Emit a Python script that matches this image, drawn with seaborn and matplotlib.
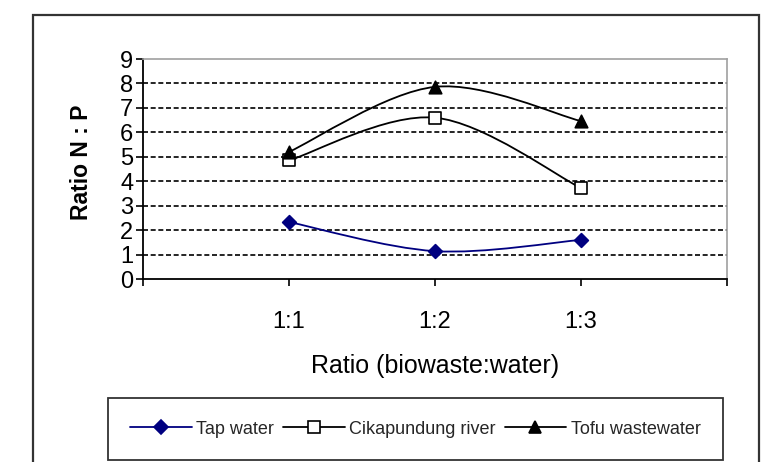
import numpy as np
import pandas as pd
import seaborn as sns
import matplotlib
matplotlib.use("Agg")
import matplotlib.pyplot as plt
from matplotlib.path import Path
from matplotlib.patches import PathPatch, Rectangle
from matplotlib.lines import Line2D

# ---- data ----
categories = ["1:1", "1:2", "1:3"]
tap_water = [2.33, 1.14, 1.60]
cikapundung = [4.85, 6.60, 3.72]
tofu = [5.20, 7.86, 6.46]
series_names = ["Tap water", "Cikapundung river", "Tofu wastewater"]
y_ticks = [0, 1, 2, 3, 4, 5, 6, 7, 8, 9]

sns.set_theme(style="white")
plt.rcParams["font.family"] = ["Liberation Sans", "DejaVu Sans"]

W, H = 768, 462
fig = plt.figure(figsize=(W / 100, H / 100), dpi=100)
fig.patch.set_facecolor("white")

ax = fig.add_axes([143 / W, 1 - 279 / H, (727 - 143) / W, (279 - 59) / H])
ax.set_facecolor("white")

xpos = np.arange(1, len(categories) + 1)
df = pd.DataFrame({
    "x": np.tile(xpos, 3),
    "y": tap_water + cikapundung + tofu,
    "series": np.repeat(series_names, len(categories)),
})

styles = {
    "Tap water": dict(color="#000080", marker="D", mfc="#000080", mec="#000080", ms=7),
    "Cikapundung river": dict(color="black", marker="s", mfc="white", mec="black", ms=8),
    "Tofu wastewater": dict(color="black", marker="^", mfc="black", mec="black", ms=9),
}


def smooth_path(xs, ys):
    # Excel-style smoothed line: cubic Bezier segments with Catmull-Rom control points
    pts = np.column_stack([xs, ys]).astype(float)
    ext = np.vstack([pts[0], pts, pts[-1]])
    verts = [tuple(pts[0])]
    codes = [Path.MOVETO]
    for i in range(1, len(ext) - 2):
        p0, p1, p2, p3 = ext[i - 1], ext[i], ext[i + 1], ext[i + 2]
        c1 = p1 + (p2 - p0) / 6.0
        c2 = p2 - (p3 - p1) / 6.0
        verts += [tuple(c1), tuple(c2), tuple(p2)]
        codes += [Path.CURVE4] * 3
    return Path(verts, codes)


for name in series_names:
    sub = df[df["series"] == name]
    st = styles[name]
    ax.add_patch(PathPatch(smooth_path(sub["x"].values, sub["y"].values),
                           facecolor="none", edgecolor=st["color"], lw=1.3, zorder=3))
    sns.scatterplot(data=sub, x="x", y="y", ax=ax, marker=st["marker"],
                    s=st["ms"] ** 2, color=st["mfc"], edgecolor=st["mec"],
                    linewidth=1.2, zorder=4, legend=False)

ax.set_xlim(0, 4)
ax.set_ylim(0, 9)
ax.set_xticks([0, 1, 2, 3, 4])
ax.set_xticklabels([""] + categories + [""])
ax.set_yticks(y_ticks)
ax.set_yticklabels([str(t) for t in y_ticks])

for t in y_ticks[1:-1]:
    ax.axhline(t, color="black", lw=1.2, ls=(0, (3, 1.6)), zorder=1)

for side in ["left", "bottom"]:
    ax.spines[side].set_color("black")
    ax.spines[side].set_linewidth(1.3)
for side in ["top", "right"]:
    ax.spines[side].set_color("#a0a0a0")
    ax.spines[side].set_linewidth(1.2)
    ax.spines[side].set_visible(True)

ax.tick_params(axis="both", direction="out", length=5, width=1.2, color="black",
               labelsize=17, labelcolor="black")
ax.tick_params(axis="y", pad=2)
ax.tick_params(axis="x", pad=18)
ax.tick_params(left=True, bottom=True)
ax.set_xlabel("Ratio (biowaste:water)", fontsize=18, labelpad=15, color="black")
ax.set_ylabel("")
fig.text(82 / W, 1 - 162 / H, "Ratio N : P", rotation=90, fontsize=16.5,
         fontweight="bold", ha="center", va="center", color="black")

# legend
handles = [Line2D([], [], color=styles[n]["color"], marker=styles[n]["marker"],
                  mfc=styles[n]["mfc"], mec=styles[n]["mec"], ms=styles[n]["ms"],
                  mew=1.2, lw=1.3) for n in series_names]
leg = fig.legend(handles, series_names, loc="center",
                 bbox_to_anchor=(415.5 / W, 1 - 429 / H), ncol=3, fontsize=13,
                 frameon=True, fancybox=False, handlelength=3.4, handletextpad=0.25,
                 columnspacing=0.5, borderpad=1.25, borderaxespad=0)
leg.get_frame().set_edgecolor("black")
leg.get_frame().set_linewidth(1.3)

# outer chart border
fig.add_artist(Rectangle((33 / W, -0.05), (759 - 33) / W, 1.05 - 15 / H,
                         transform=fig.transFigure, fill=False,
                         edgecolor="#333333", lw=1.6))

fig.savefig("out.png", dpi=100)
